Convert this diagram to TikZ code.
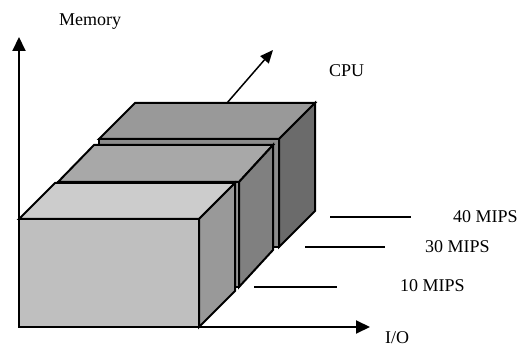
\documentclass[tikz,border=0pt]{standalone}
\usepackage{fontspec}
\setmainfont{Liberation Serif}
\usetikzlibrary{arrows.meta}
\definecolor{fF}{gray}{0.75}
\definecolor{fT}{gray}{0.80}
\definecolor{fR}{gray}{0.60}
\definecolor{mF}{gray}{0.60}
\definecolor{mT}{gray}{0.66}
\definecolor{mR}{gray}{0.50}
\definecolor{bF}{gray}{0.55}
\definecolor{bT}{gray}{0.60}
\definecolor{bR}{gray}{0.42}
\tikzset{
  face/.style={draw=black, line width=2pt, line join=miter},
  axis/.style={draw=black, line width=2pt, -{Triangle[length=14pt,width=13pt]}},
  cpuaxis/.style={draw=black, line width=1.5pt, -{Triangle[length=13pt,width=11pt]}},
  level/.style={draw=black, line width=1.8pt},
  lbl/.style={font=\fontsize{18}{20}\selectfont, inner sep=0pt, anchor=base west},
}
\begin{document}
\begin{tikzpicture}[x=1pt,y=-1pt]
\useasboundingbox (0,0) rectangle (522,347);
% axes
\coordinate (O) at (19,327);
\coordinate (Mtip) at (19,37);
\coordinate (Itip) at (370,327);
\coordinate (Cs) at (227,103);
\coordinate (Ctip) at (273,50);
\draw[axis] (O) -- (Mtip);
\draw[axis] (O) -- (Itip);
\draw[cpuaxis] (Cs) -- (Ctip);
% back box
\fill[bF, face] (99,139) -- (279,139) -- (279,247) -- (99,247) -- cycle;
\fill[bT, face] (99,139) -- (135,103) -- (315,103) -- (279,139) -- cycle;
\fill[bR, face] (279,139) -- (315,103) -- (315,211) -- (279,247) -- cycle;
% middle box
\fill[mF, face] (58,182) -- (239,182) -- (239,287) -- (58,287) -- cycle;
\fill[mT, face] (58,182) -- (94,145) -- (273,145) -- (239,182) -- cycle;
\fill[mR, face] (239,182) -- (273,145) -- (273,250) -- (239,287) -- cycle;
% front box
\fill[fF, face] (19,219) -- (199,219) -- (199,327) -- (19,327) -- cycle;
\fill[fT, face] (19,219) -- (55,183) -- (235,183) -- (199,219) -- cycle;
\fill[fR, face] (199,219) -- (235,183) -- (235,291) -- (199,327) -- cycle;
% level lines
\coordinate (l4a) at (330,217); \coordinate (l4b) at (411,217);
\coordinate (l3a) at (305,247); \coordinate (l3b) at (385,247);
\coordinate (l1a) at (254,287); \coordinate (l1b) at (337,287);
\draw[level] (l4a) -- (l4b);
\draw[level] (l3a) -- (l3b);
\draw[level] (l1a) -- (l1b);
% labels
\node[lbl] (mem) at (59,26) {Memory};
\node[lbl] (cpu) at (329,77) {CPU};
\node[lbl] (io) at (385,343) {I/O};
\node[lbl] (m40) at (453,223) {40 MIPS};
\node[lbl] (m30) at (425,253) {30 MIPS};
\node[lbl] (m10) at (400,292) {10 MIPS};
\end{tikzpicture}
\end{document}
